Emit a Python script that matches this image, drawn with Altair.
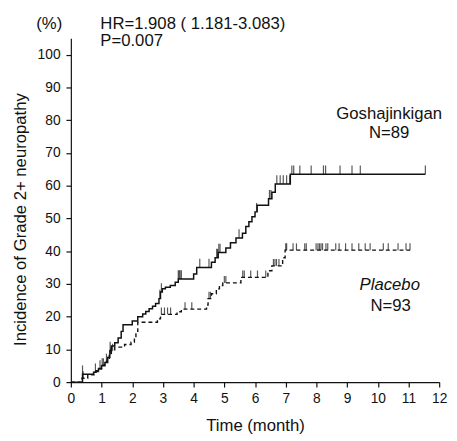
import altair as alt
import pandas as pd
import numpy as np

# Goshajinkigan (solid) cumulative incidence, step-after
gosha_time = [0, 0.38, 0.74, 0.82, 0.9, 1.0, 1.11, 1.2, 1.27, 1.32, 1.43, 1.54, 1.64, 1.7,
              2.0, 2.18, 2.34, 2.44, 2.55, 2.66, 2.76, 2.87, 2.92, 2.98, 3.08, 3.24, 3.4,
              3.5, 4.0, 4.1, 4.58, 4.7, 4.8, 5.05, 5.2, 5.38, 5.59, 5.7, 5.8, 5.9, 6.0,
              6.07, 6.44, 6.55, 6.66, 7.15, 11.55]
gosha_inc = [0, 2.4, 3.0, 3.5, 4.0, 5.0, 6.0, 7.5, 9.6, 11.0, 12.0, 13.5, 15.5, 17.5,
             18.7, 20.0, 20.8, 21.6, 22.4, 23.2, 24.0, 25.5, 27.5, 28.5, 29.0, 29.5, 30.5,
             31.5, 33.0, 35.0, 36.6, 38.0, 39.6, 41.0, 42.6, 44.0, 45.5, 47.5, 49.0, 50.5, 52.0,
             54.0, 56.0, 58.0, 60.5, 63.5, 63.5]
gosha_cens = [0.38, 0.8, 0.95, 1.16, 1.28, 2.9, 2.95, 3.5, 3.53, 3.56, 3.6, 4.2, 4.5,
              4.75, 4.78, 4.82, 4.86, 5.48, 6.05, 6.47, 6.52, 6.71, 6.82, 6.92, 7.03, 7.13,
              7.2, 7.26, 7.46, 7.83, 8.23, 8.3, 8.77, 9.16, 9.43, 11.55]

# Placebo (dashed)
placebo_time = [0, 0.36, 0.55, 0.75, 0.9, 1.0, 1.1, 1.18, 1.25, 1.32, 1.43, 1.75, 1.96,
                2.07, 2.12, 2.18, 2.82, 2.92, 3.46, 3.6, 4.42, 4.47, 4.58, 4.74, 4.84,
                4.95, 5.54, 6.42, 6.55, 6.9, 6.98, 11.05]
placebo_inc = [0, 1.2, 2.2, 3.2, 4.2, 5.2, 6.2, 7.3, 8.4, 9.6, 10.7, 11.5, 12.2,
               13.5, 15.5, 18.3, 19.3, 20.7, 21.5, 22.3, 23.5, 25.5, 27.0, 28.5, 29.5,
               30.3, 32.0, 34.0, 35.5, 38.0, 40.3, 40.3]
placebo_cens = [0.4, 1.02, 1.06, 1.3, 1.36, 2.95, 3.05, 3.15, 3.25, 3.72, 3.94, 4.5,
                4.55, 5.0, 5.05, 5.6, 5.65, 5.86, 6.08, 6.35, 6.6, 6.65, 6.7, 6.78,
                7.0, 7.03, 7.24, 7.35, 7.62, 7.67, 7.99, 8.05, 8.1, 8.15, 8.2, 8.31,
                8.37, 8.63, 8.74, 8.95, 9.16, 9.38, 9.59, 9.75, 10.18, 10.34, 10.66,
                10.92, 11.05]

x_ticks = list(range(0, 13))
y_ticks = list(range(0, 101, 10))
hr_note = "HR=1.908 ( 1.181-3.083)"
p_note = "P=0.007"


def on_curve(times, vals, pts):
    idx = np.searchsorted(np.array(times), np.array(pts), side="right") - 1
    return [vals[i] for i in idx]


gosha_df = pd.DataFrame({"t": gosha_time, "inc": gosha_inc})
placebo_df = pd.DataFrame({"t": placebo_time, "inc": placebo_inc})
gosha_c = pd.DataFrame({"t": gosha_cens, "inc": on_curve(gosha_time, gosha_inc, gosha_cens)})
placebo_c = pd.DataFrame({"t": placebo_cens, "inc": on_curve(placebo_time, placebo_inc, placebo_cens)})

FONT = "Liberation Sans"
INK = "#111111"

xs = alt.Scale(domain=[0, 12], nice=False)
ys = alt.Scale(domain=[0, 105], nice=False)

x_axis = alt.Axis(values=x_ticks, title="Time (month)", titleFontSize=17, titleFont=FONT,
                  titleFontWeight="normal", titleX=187.5, titleY=49,
                  titleBaseline="alphabetic", titleAlign="center", labelPadding=5,
                  tickSize=5, format="d", labelOverlap=False, labelFlush=False)
y_axis = alt.Axis(values=y_ticks, title="Incidence of Grade 2+ neuropathy", titleFontSize=17,
                  titleFont=FONT, titleFontWeight="normal", titleAngle=270, titleX=-46,
                  titleY=184, titleBaseline="alphabetic", titleAlign="center",
                  labelPadding=6, tickSize=5, format="d", labelOverlap=False, labelFlush=False)

X = alt.X("t:Q", scale=xs, axis=x_axis)
Y = alt.Y("inc:Q", scale=ys, axis=y_axis)

gosha_line = alt.Chart(gosha_df).mark_line(
    interpolate="step-after", color=INK, strokeWidth=1.5
).encode(x=X, y=Y)

placebo_line = alt.Chart(placebo_df).mark_line(
    interpolate="step-after", color=INK, strokeWidth=1.4, strokeDash=[4, 3]
).encode(x=X, y=Y)

gosha_ticks = alt.Chart(gosha_c).mark_tick(
    orient="vertical", size=9, thickness=1.2, yOffset=-4.5, color=INK
).encode(x=X, y=Y)

placebo_ticks = alt.Chart(placebo_c).mark_tick(
    orient="vertical", size=7, thickness=1.2, yOffset=-3.5, color=INK
).encode(x=X, y=Y)


def pixel_text(txt, px, py, align="left"):
    return alt.Chart(pd.DataFrame({"label": [txt]})).mark_text(
        align=align, baseline="alphabetic", font=FONT, fontSize=17, color=INK
    ).encode(text="label:N", x=alt.value(px), y=alt.value(py))


def label(txt, t, v, italic=False):
    return alt.Chart(pd.DataFrame({"label": [txt], "t": [t], "inc": [v]})).mark_text(
        align="center", baseline="alphabetic", font=FONT, fontSize=17, color=INK,
        fontStyle="italic" if italic else "normal"
    ).encode(text="label:N", x=X, y=Y)


chart = alt.layer(
    gosha_line, placebo_line, gosha_ticks, placebo_ticks,
    pixel_text(hr_note, 30, -10), pixel_text(p_note, 30, 8), pixel_text("(%)", -22, -10, "center"),
    label("Goshajinkigan", 10.37, 80.5), label("N=89", 10.37, 74.7),
    label("Placebo", 10.39, 28.0, italic=True), label("N=93", 10.42, 21.6),
).properties(
    width=375, height=350,
    autosize=alt.AutoSizeParams(type="none"),
    padding={"left": 64, "top": 27, "right": 10, "bottom": 54},
).configure_view(stroke=None).configure_axis(
    grid=False, domainColor=INK, domainWidth=1.2, tickColor=INK, tickWidth=1.2,
    labelColor=INK, labelFont=FONT, labelFontSize=14, titleColor=INK
)

chart.save("out.html", embed_options={"renderer": "svg", "actions": False})
